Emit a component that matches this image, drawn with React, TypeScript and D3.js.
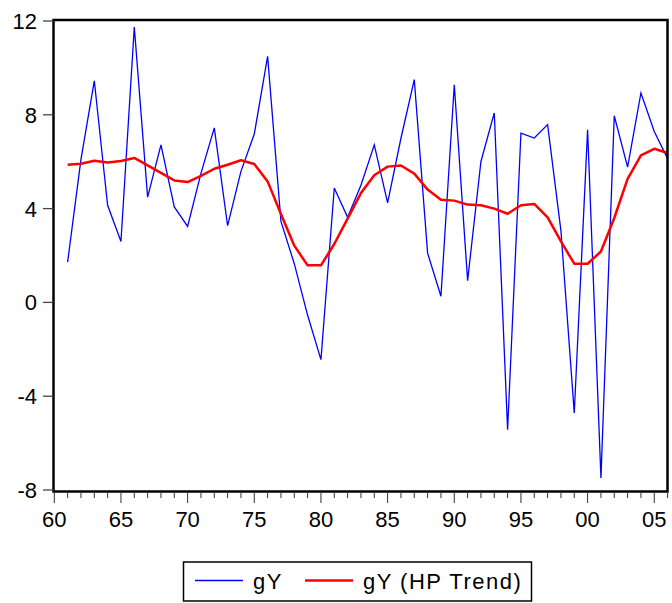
import React from "react";
import * as d3 from "d3";

// years 1961-2006
const years = d3.range(1961, 2007);

// growth rate gY
const gY = [
	1.72, 6.1, 9.45, 4.14, 2.6, 11.74, 4.49, 6.72, 4.07, 3.24,
	5.5, 7.44, 3.27, 5.59, 7.18, 10.49, 3.45, 1.65, -0.55, -2.44,
	4.88, 3.63, 5.0, 6.72, 4.24, 7.0, 9.5, 2.1, 0.26, 9.28,
	0.93, 6.01, 8.08, -5.43, 7.22, 7.01, 7.58, 3.05, -4.72, 7.36,
	-7.49, 7.96, 5.77, 8.93, 7.29, 6.13
];

// HP filter trend of gY
const gYTrend = [
	5.87, 5.91, 6.04, 5.97, 6.03, 6.16, 5.84, 5.52, 5.2, 5.13,
	5.4, 5.7, 5.87, 6.06, 5.9, 5.16, 3.77, 2.42, 1.58, 1.58,
	2.49, 3.57, 4.66, 5.42, 5.79, 5.84, 5.49, 4.81, 4.38, 4.34,
	4.17, 4.14, 4.0, 3.78, 4.14, 4.2, 3.63, 2.6, 1.65, 1.65,
	2.17, 3.6, 5.27, 6.27, 6.55, 6.37
];

const yTicks = [-8, -4, 0, 4, 8, 12];
const xMajor = [1960, 1965, 1970, 1975, 1980, 1985, 1990, 1995, 2000, 2005];
const xMinor = d3.range(1960, 2007);
const fmtYear = (y: number) => String(y % 100).padStart(2, "0");

const legendItems = [
	{ label: "gY", color: "#0000ff", width: 1.3 },
	{ label: "gY (HP Trend)", color: "#ff0000", width: 2.5 }
];

const font = "'Liberation Sans', Arial, Helvetica, sans-serif";

export default function App() {
	const w = 672;
	const h = 603;
	const left = 53.5;
	const right = 667.5;
	const top = 20;
	const bottom = 491.5;

	// Scales
	const xScale = d3.scaleLinear().domain([1960, 2006]).range([54.3, 667.6]);
	const yScale = d3.scaleLinear().domain([-8, 12]).range([490, 21]);

	const line = d3
		.line<number>()
		.x((d, i) => xScale(years[i]))
		.y(d => yScale(d));

	return (
		<svg
			width={w}
			height={h}
			viewBox={`0 0 ${w} ${h}`}
			style={{ position: "absolute", left: 0, top: 0, background: "#fff" }}
			fontFamily={font}
		>
			<rect x={0} y={0} width={w} height={h} fill="#fff" />

			{/* series */}
			<path d={line(gY) || ""} fill="none" stroke="#0000ff" strokeWidth={1.3} strokeLinejoin="miter" />
			<path d={line(gYTrend) || ""} fill="none" stroke="#ff0000" strokeWidth={2.5} strokeLinejoin="round" />

			{/* frame */}
			<rect
				x={left}
				y={top}
				width={right - left}
				height={bottom - top}
				fill="none"
				stroke="#000"
				strokeWidth={2.5}
			/>

			{/* y-axis */}
			{yTicks.map(t => (
				<g key={t}>
					<line x1={43} x2={left} y1={yScale(t)} y2={yScale(t)} stroke="#444" strokeWidth={1.3} />
					<text x={37} y={yScale(t)} dy="0.36em" textAnchor="end" fontSize={22} fill="#000">
						{t}
					</text>
				</g>
			))}

			{/* x-axis */}
			{xMinor.map(t => (
				<line
					key={t}
					x1={xScale(t)}
					x2={xScale(t)}
					y1={bottom}
					y2={xMajor.includes(t) ? 503 : 498}
					stroke="#333"
					strokeWidth={1}
				/>
			))}
			{xMajor.map(t => (
				<text key={t} x={xScale(t)} y={526.5} textAnchor="middle" fontSize={22} fill="#000">
					{fmtYear(t)}
				</text>
			))}

			{/* legend */}
			<rect x={183.5} y={562} width={348} height={39} fill="#fff" stroke="#000" strokeWidth={1.5} />
			{legendItems.map((d, i) => {
				const x0 = i === 0 ? 195 : 305;
				return (
					<g key={d.label}>
						<line x1={x0} x2={x0 + 48} y1={580.5} y2={580.5} stroke={d.color} strokeWidth={d.width} />
						<text x={x0 + 58} y={589} fontSize={22} letterSpacing={1.5} fill="#000">
							{d.label}
						</text>
					</g>
				);
			})}
		</svg>
	);
}
